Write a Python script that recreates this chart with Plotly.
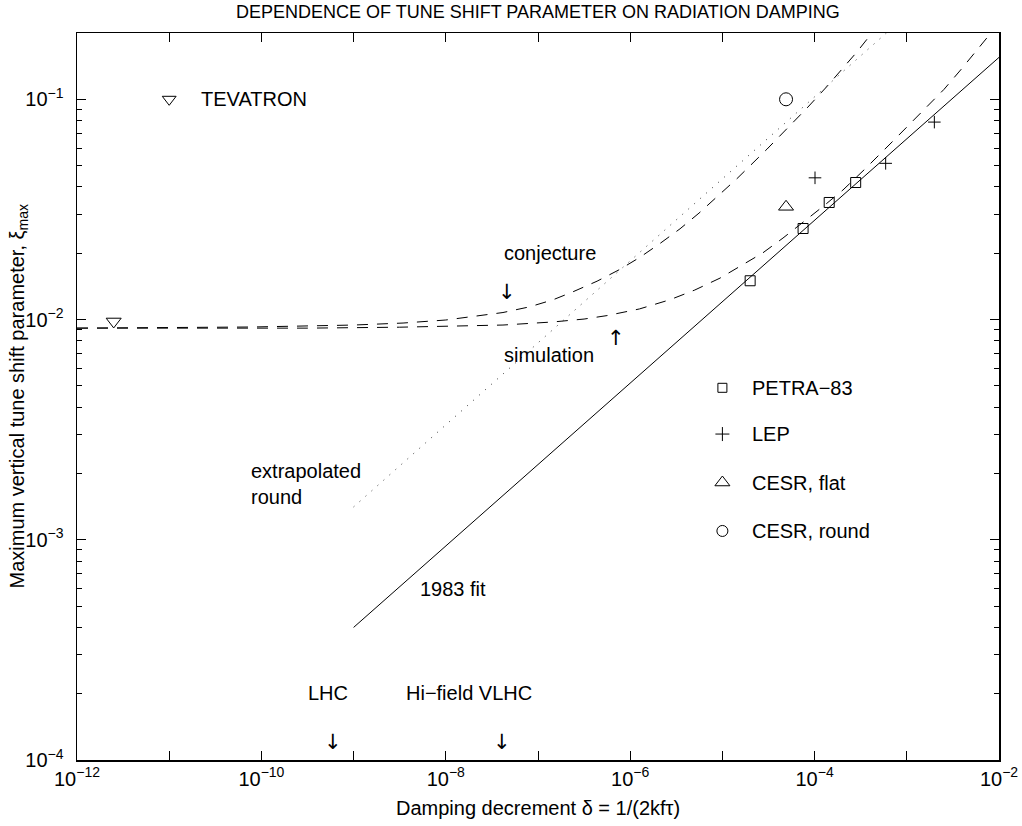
import math
import plotly.graph_objects as go

# ---------------- data ----------------
petra_x = [2.0e-5, 7.5e-5, 1.44e-4, 2.79e-4]
petra_y = [0.0150, 0.0259, 0.0340, 0.0419]

lep_x = [1.01e-4, 5.9e-4, 1.99e-3]
lep_y = [0.0440, 0.0512, 0.0788]

cesr_flat_x = [4.9e-5]
cesr_flat_y = [0.0325]

cesr_round_x = [4.9e-5]
cesr_round_y = [0.100]

tevatron_x = [2.5e-12]
tevatron_y = [0.0098]

fit1983_x = [1.0e-9, 1.0e-2]
fit1983_y = [4.0e-4, 0.155]

round_x = [1.0e-9, 6.0e-4]
round_y = [1.41e-3, 0.200]

conj_x = [1.0e-12, 7.94e-11, 1.0e-9, 3.44e-9, 1.0e-8, 4.17e-8, 8.18e-8, 1.46e-7, 2.40e-7,
          4.37e-7, 7.74e-7, 1.28e-6, 2.10e-6, 3.47e-6, 5.57e-6, 8.95e-6, 1.44e-5,
          3.05e-5, 5.02e-5, 8.26e-5, 1.36e-4, 1.88e-4, 2.88e-4, 4.17e-4]
conj_y = [9.14e-3, 9.25e-3, 9.44e-3, 9.64e-3, 9.95e-3, 1.076e-2, 1.143e-2, 1.230e-2, 1.337e-2,
          1.493e-2, 1.690e-2, 1.919e-2, 2.213e-2, 2.582e-2, 3.041e-2, 3.631e-2, 4.365e-2,
          5.943e-2, 7.362e-2, 9.12e-2, 0.1143, 0.1334, 0.1641, 0.1995]

sim_x = [1.0e-12, 3.16e-10, 3.16e-9, 1.26e-8, 4.17e-8, 1.46e-7, 3.16e-7, 5.60e-7, 1.26e-6,
         2.70e-6, 5.01e-6, 9.42e-6, 1.63e-5, 2.75e-5, 4.54e-5, 7.48e-5, 1.23e-4, 2.03e-4,
         3.55e-4, 7.26e-4, 1.46e-3, 2.53e-3, 3.87e-3, 6.55e-3, 8.13e-3]
sim_y = [9.14e-3, 9.14e-3, 9.23e-3, 9.31e-3, 9.44e-3, 9.75e-3, 1.005e-2, 1.042e-2, 1.117e-2,
         1.230e-2, 1.361e-2, 1.542e-2, 1.758e-2, 2.009e-2, 2.344e-2, 2.754e-2, 3.258e-2, 3.873e-2,
         4.842e-2, 6.53e-2, 8.75e-2, 0.1109, 0.1365, 0.1778, 0.1995]

x_tick_vals = [1e-12, 1e-11, 1e-10, 1e-9, 1e-8, 1e-7, 1e-6, 1e-5, 1e-4, 1e-3, 1e-2]
x_tick_text = ["10<sup>\u221212</sup>", "", "10<sup>\u221210</sup>", "", "10<sup>\u22128</sup>", "",
               "10<sup>\u22126</sup>", "", "10<sup>\u22124</sup>", "", "10<sup>\u22122</sup>"]
y_tick_vals = [1e-4, 1e-3, 1e-2, 1e-1]
y_tick_text = ["10<sup>\u22124</sup>", "10<sup>\u22123</sup>", "10<sup>\u22122</sup>", "10<sup>\u22121</sup>"]
y_minor_vals = [m * 10.0 ** e for e in (-4, -3, -2, -1) for m in range(2, 10)]

legend_names = ["PETRA\u221283", "LEP", "CESR, flat", "CESR, round"]
legend_symbols = ["square-open", "cross-thin-open", "triangle-up-open", "circle-open"]
legend_sizes = [9, 10, 13, 11]

FONT = "Liberation Sans, Arial, Helvetica, sans-serif"
ARROW_FONT = dict(family="DejaVu Sans, sans-serif", size=21, color="black")
BLACK = "black"

fig = go.Figure()

# curves
fig.add_trace(go.Scatter(x=fit1983_x, y=fit1983_y, mode="lines",
                         line=dict(color=BLACK, width=1)))
fig.add_trace(go.Scatter(x=round_x, y=round_y, mode="lines",
                         line=dict(color="#333333", width=1, dash="1px,7px")))
fig.add_trace(go.Scatter(x=conj_x, y=conj_y, mode="lines",
                         line=dict(color=BLACK, width=1, dash="11px,9px")))
fig.add_trace(go.Scatter(x=sim_x, y=sim_y, mode="lines",
                         line=dict(color=BLACK, width=1, dash="11px,9px")))

# data markers
def add_markers(xs, ys, symbol, size):
    fig.add_trace(go.Scatter(x=xs, y=ys, mode="markers",
                             marker=dict(symbol=symbol, size=size, color=BLACK,
                                         line=dict(color=BLACK, width=1))))

add_markers(petra_x, petra_y, "square-open", 10)
add_markers(lep_x, lep_y, "cross-thin-open", 9)
add_markers(cesr_flat_x, cesr_flat_y, "triangle-up-open", 13)
add_markers(cesr_round_x, cesr_round_y, "circle-open", 13)
add_markers(tevatron_x, tevatron_y, "triangle-down-open", 13)

# in-plot legend (positions in log10 axis units)
leg_marker_x = -5.0
leg_text_x = -4.70
leg_rows_y = [-2.31, -2.52, -2.74, -2.96]
for name, sym, sz, ly in zip(legend_names, legend_symbols, legend_sizes, leg_rows_y):
    fig.add_trace(go.Scatter(x=[10 ** leg_marker_x], y=[10 ** ly], mode="markers",
                             marker=dict(symbol=sym, size=sz, color=BLACK,
                                         line=dict(color=BLACK, width=1))))
    fig.add_annotation(x=leg_text_x, y=ly, text=name, showarrow=False,
                       xanchor="left", yanchor="middle")

# TEVATRON legend entry
fig.add_trace(go.Scatter(x=[10 ** -11.0], y=[10 ** -1.0], mode="markers",
                         marker=dict(symbol="triangle-down-open", size=12, color=BLACK,
                                     line=dict(color=BLACK, width=1))))
fig.add_annotation(x=-10.68, y=-1.0, text="TEVATRON", showarrow=False,
                   xanchor="left", yanchor="middle")

# labels inside plot
labels = [
    (-7.39, -1.699, "conjecture"),
    (-7.39, -2.162, "simulation"),
    (-10.135, -2.749, "extrapolated<br>round"),
    (-8.302, -3.224, "1983 fit"),
    (-9.516, -3.696, "LHC"),
    (-8.453, -3.696, "Hi\u2212field VLHC"),
]
for lx, ly, txt in labels:
    fig.add_annotation(x=lx, y=ly, text=txt, showarrow=False, xanchor="left",
                       yanchor="middle", align="left")

arrows = [
    (-7.336, -1.876, "\u2193"),
    (-6.154, -2.084, "\u2191"),
    (-9.223, -3.918, "\u2193"),
    (-7.39, -3.918, "\u2193"),
]
for ax_, ay_, txt in arrows:
    fig.add_annotation(x=ax_, y=ay_, text=txt, showarrow=False, xanchor="center",
                       yanchor="middle", font=ARROW_FONT)

# titles
fig.add_annotation(xref="paper", yref="paper", x=0.5, y=1, yshift=21,
                   text="DEPENDENCE OF TUNE SHIFT PARAMETER ON RADIATION DAMPING",
                   showarrow=False, xanchor="center", yanchor="middle",
                   font=dict(size=18))
fig.add_annotation(xref="paper", yref="paper", x=0.5, y=0, yshift=-48,
                   text="Damping decrement \u03b4 = 1/(2kf\u03c4)",
                   showarrow=False, xanchor="center", yanchor="middle")
fig.add_annotation(xref="paper", yref="paper", x=0, xshift=-59, y=0.5,
                   text="Maximum vertical tune shift parameter, \u03be<sub>max</sub>",
                   showarrow=False, xanchor="center", yanchor="middle", textangle=-90)

axis_common = dict(type="log", showgrid=False, zeroline=False, showline=True,
                   linecolor=BLACK, linewidth=1.5, mirror="allticks", ticks="inside",
                   ticklen=9, tickwidth=1, tickcolor=BLACK, automargin=False,
                   tickfont=dict(family=FONT, size=20, color=BLACK))

fig.update_layout(
    width=1022, height=826,
    margin=dict(l=77, r=23, t=33, b=66, autoexpand=False),
    paper_bgcolor="white", plot_bgcolor="white",
    showlegend=False, hovermode=False,
    font=dict(family=FONT, size=20, color=BLACK),
    xaxis=dict(range=[-12, -2], tickvals=x_tick_vals, ticktext=x_tick_text, **axis_common),
    yaxis=dict(range=[-4, math.log10(0.2)], tickvals=y_tick_vals, ticktext=y_tick_text,
               ticklabelstandoff=8,
               minor=dict(tickvals=y_minor_vals, ticks="inside", ticklen=5,
                          tickcolor=BLACK, tickwidth=1),
               **axis_common),
)

fig.write_html("out.html",
               config={"displayModeBar": False, "staticPlot": True},
               post_script="document.body.style.margin='0';document.body.style.overflow='hidden';")
